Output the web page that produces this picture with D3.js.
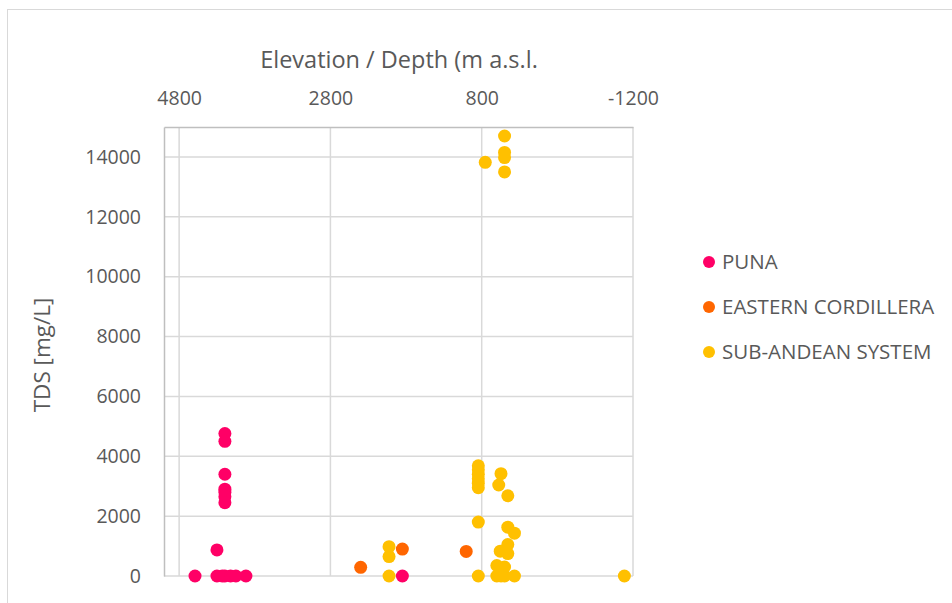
<!DOCTYPE html>
<html>
<head>
<meta charset="utf-8">
<script src="https://cdn.jsdelivr.net/npm/d3@7"></script>
<style>
  body { margin: 0; background: #fff; }
  text { font-family: "Open Sans", Lato, sans-serif; fill: #595959; }
</style>
</head>
<body>
<div id="chart"></div>
<script>
// series, as [elevation (m a.s.l.), TDS (mg/L)]
var punaData = [
  [4590, 0], [4300, 870], [4300, 0], [4230, 0], [4195, 0], [4120, 0], [4050, 0], [3917, 0],
  [4195, 4760], [4195, 4500], [4195, 3400], [4195, 2900], [4195, 2800], [4195, 2650],
  [4195, 2450], [1849, 0]
];
var cordilleraData = [
  [2400, 290], [1849, 900], [1005, 820]
];
var subAndeanData = [
  [2025, 980], [2025, 650], [2025, 0],
  [498, 14700], [498, 14150], [498, 13980], [753, 13820], [498, 13500],
  [845, 3680], [845, 3550], [845, 3400], [845, 3250], [845, 3100], [845, 2950],
  [545, 3420], [575, 3040], [455, 2680], [845, 1800],
  [455, 1630], [367, 1430], [455, 1050], [455, 750], [555, 830],
  [600, 350], [498, 300], [845, 0], [600, 0], [545, 0], [498, 0], [367, 0],
  [-1086, 0]
];

var seriesNames = ["PUNA", "EASTERN CORDILLERA", "SUB-ANDEAN SYSTEM"];
var seriesColors = ["#ff0066", "#ff6600", "#ffc000"];
var seriesData = [punaData, cordilleraData, subAndeanData];

var xTicks = [4800, 2800, 800, -1200];
var yTicks = [0, 2000, 4000, 6000, 8000, 10000, 12000, 14000];

var svgWidth = 952;
var svgHeight = 603;

var margin = { top: 127, right: 319, bottom: 27, left: 164 };
var width = svgWidth - margin.left - margin.right;
var height = svgHeight - margin.top - margin.bottom;

var svg = d3.select("#chart")
  .append("svg")
  .attr("width", svgWidth)
  .attr("height", svgHeight);

// chart area border
svg.append("rect")
  .attr("x", 7.5)
  .attr("y", 9.5)
  .attr("width", 1000)
  .attr("height", 700)
  .attr("fill", "none")
  .attr("stroke", "#d9d9d9")
  .attr("stroke-width", 1);

var chartGroup = svg.append("g")
  .attr("transform", `translate(${margin.left}, ${margin.top})`);

// reversed x axis: 5000 on the left, -1200 on the right
var xScale = d3.scaleLinear().domain([5000, -1200]).range([0, width]);
var yScale = d3.scaleLinear().domain([0, 15000]).range([height, 0]);

// gridlines
chartGroup.append("g")
  .selectAll("line")
  .data(xTicks)
  .enter()
  .append("line")
  .attr("x1", d => xScale(d))
  .attr("x2", d => xScale(d))
  .attr("y1", 0)
  .attr("y2", height)
  .attr("stroke", "#d9d9d9")
  .attr("stroke-width", 1.5);

chartGroup.append("g")
  .selectAll("line")
  .data(yTicks)
  .enter()
  .append("line")
  .attr("x1", 0)
  .attr("x2", width)
  .attr("y1", d => yScale(d))
  .attr("y2", d => yScale(d))
  .attr("stroke", "#d9d9d9")
  .attr("stroke-width", 1.5);

// axes (top and left), plain number format with ascii minus
var fmt = d => String(d);
var topAxis = d3.axisTop(xScale).tickValues(xTicks).tickSize(0).tickPadding(22).tickFormat(fmt);
var leftAxis = d3.axisLeft(yScale).tickValues(yTicks).tickSize(0).tickPadding(23).tickFormat(fmt);

var xAxis = chartGroup.append("g").call(topAxis);
var yAxis = chartGroup.append("g").call(leftAxis);

[xAxis, yAxis].forEach(function(ax) {
  ax.select(".domain").attr("stroke", "#bfbfbf").attr("stroke-width", 1.5);
  ax.selectAll("text")
    .style("font-family", "'Open Sans', Lato, sans-serif")
    .style("font-size", "19.5px")
    .attr("fill", "#595959");
});

// axis titles
svg.append("text")
  .attr("x", 399)
  .attr("y", 68)
  .attr("text-anchor", "middle")
  .style("font-size", "23.5px")
  .text("Elevation / Depth (m a.s.l.");

svg.append("text")
  .attr("transform", "rotate(-90)")
  .attr("x", -355)
  .attr("y", 50)
  .attr("text-anchor", "middle")
  .style("font-size", "22.5px")
  .text("TDS [mg/L]");

// points
seriesData.forEach(function(data, i) {
  chartGroup.append("g")
    .selectAll("circle")
    .data(data)
    .enter()
    .append("circle")
    .attr("cx", d => xScale(d[0]))
    .attr("cy", d => yScale(d[1]))
    .attr("r", 6.5)
    .attr("fill", seriesColors[i]);
});

// legend
var legend = svg.append("g")
  .attr("transform", "translate(709, 262)");

seriesNames.forEach(function(name, i) {
  var row = legend.append("g").attr("transform", `translate(0, ${i * 45})`);
  row.append("circle")
    .attr("r", 6)
    .attr("fill", seriesColors[i]);
  row.append("text")
    .attr("x", 13)
    .attr("y", 7)
    .style("font-size", "20.5px")
    .text(name);
});
</script>
</body>
</html>
